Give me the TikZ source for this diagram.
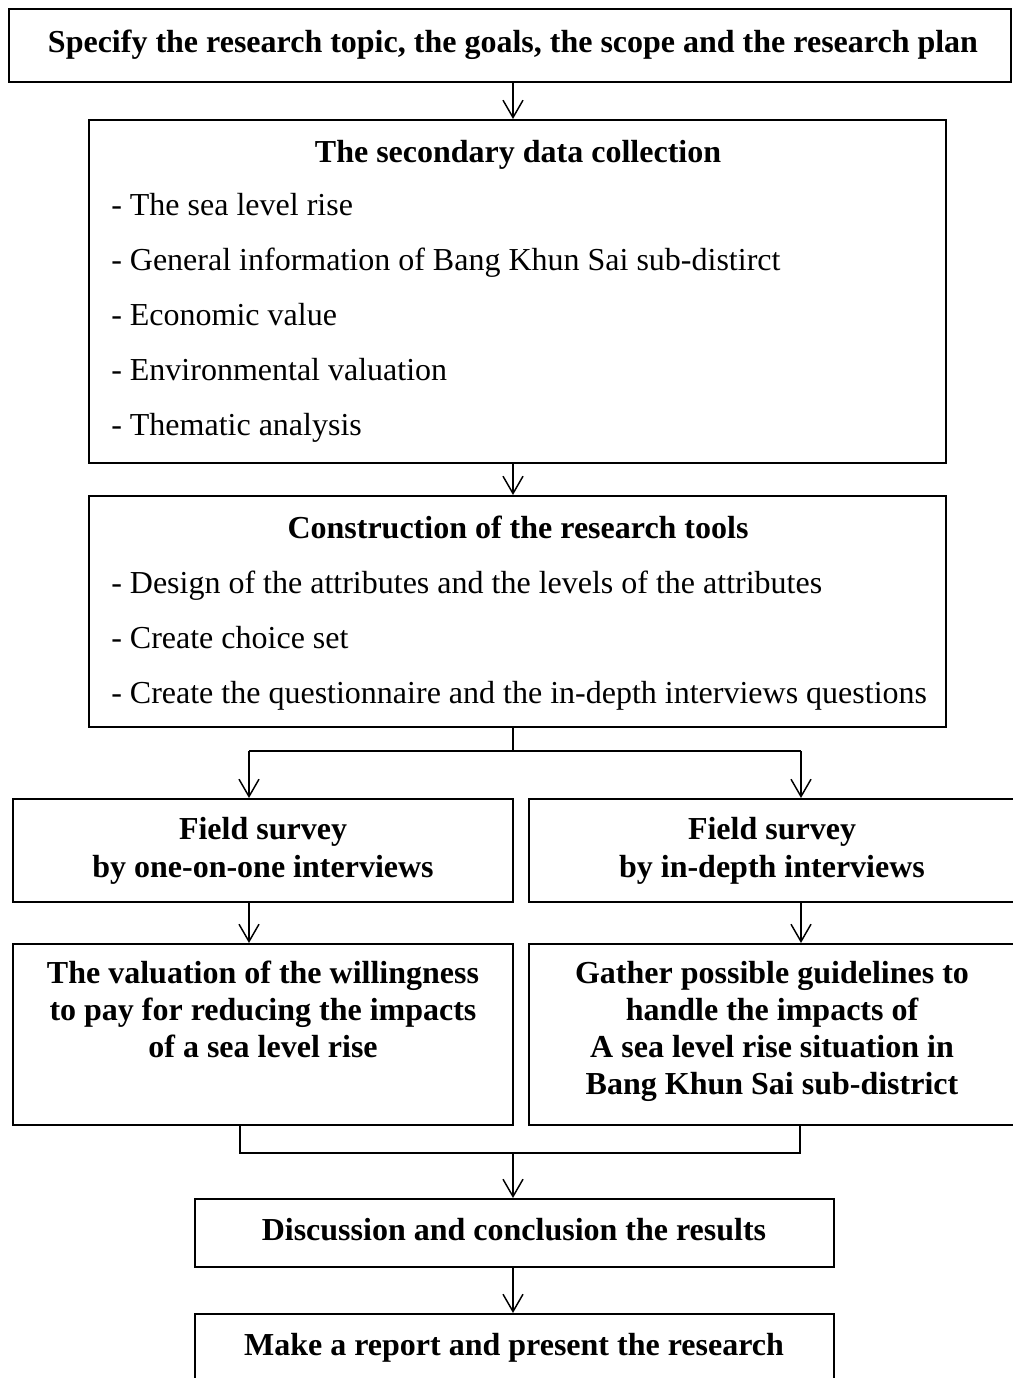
\documentclass[tikz,border=0pt]{standalone}
\usepackage{fontspec}
\setmainfont{Liberation Serif}
\usetikzlibrary{arrows.meta,fit}

\tikzset{
  box/.style={draw, line width=1.5pt, inner sep=0pt},
  hd/.style={font=\fontsize{24}{28}\selectfont\bfseries, inner sep=0pt, anchor=base},
  item/.style={font=\fontsize{24}{28}\selectfont, inner sep=0pt, anchor=base west},
  arr/.style={line width=1.1pt, -{Straight Barb[length=13pt,width=15pt,line width=1.1pt]}},
  link/.style={line width=1.1pt}
}

\begin{document}
\begin{tikzpicture}[x=0.75pt, y=-0.75pt]
  \useasboundingbox (0,0) rectangle (1013,1378);
  \fill[white] (0,0) rectangle (1013,1378);
  \clip (0,0) rectangle (1013,1378);

  % boxes
  \node[box, fit={(9,9) (1011,82)}] (spec) {};
  \node[box, fit={(89,120) (946,463)}] (data) {};
  \node[box, fit={(89,496) (946,727)}] (tools) {};
  \node[box, fit={(13,799) (513,902)}] (survA) {};
  \node[box, fit={(529,799) (1022,902)}] (survB) {};
  \node[box, fit={(13,944) (513,1125)}] (valA) {};
  \node[box, fit={(529,944) (1022,1125)}] (valB) {};
  \node[box, fit={(195,1199) (834,1267)}] (disc) {};
  \node[box, fit={(195,1314) (834,1400)}] (rep) {};

  % texts
  \node[hd] (specT) at (513,52) {Specify the research topic, the goals, the scope and the research plan};

  \node[hd] (dataT) at (518,162) {The secondary data collection};
  \foreach \t [count=\i] in {- The sea level rise,
      - General information of Bang Khun Sai sub-distirct,
      - Economic value, - Environmental valuation, - Thematic analysis}
    \node[item] (data\i) at (111,160+55*\i) {\t};

  \node[hd] (toolsT) at (518,538) {Construction of the research tools};
  \foreach \t [count=\i] in {- Design of the attributes and the levels of the attributes,
      - Create choice set,
      - Create the questionnaire and the in-depth interviews questions}
    \node[item] (tools\i) at (111,538+55*\i) {\t};

  \node[hd] (survA1) at (263,839) {Field survey};
  \node[hd] (survA2) at (263,877) {by one-on-one interviews};
  \node[hd] (survB1) at (772,839) {Field survey};
  \node[hd] (survB2) at (772,877) {by in-depth interviews};

  \node[hd] (valA1) at (263,983) {The valuation of the willingness};
  \node[hd] (valA2) at (263,1020) {to pay for reducing the impacts};
  \node[hd] (valA3) at (263,1057) {of a sea level rise};
  \node[hd] (valB1) at (772,983) {Gather possible guidelines to};
  \node[hd] (valB2) at (772,1020) {handle the impacts of};
  \node[hd] (valB3) at (772,1057) {A sea level rise situation in};
  \node[hd] (valB4) at (772,1094) {Bang Khun Sai sub-district};

  \node[hd] (discT) at (514,1240) {Discussion and conclusion the results};
  \node[hd] (repT) at (514,1355) {Make a report and present the research};

  % connectors
  \coordinate (spine) at (513,0);
  \coordinate (lsplit) at (249,751);
  \coordinate (rsplit) at (801,751);
  \coordinate (ljoin) at (240,1153);
  \coordinate (rjoin) at (800,1153);

  \draw[arr] (spec.south -| spine) -- (data.north -| spine);
  \draw[arr] (data.south -| spine) -- (tools.north -| spine);
  \draw[link] (tools.south -| spine) -- (lsplit -| spine);
  \draw[link] (lsplit) -- (rsplit);
  \draw[arr] (lsplit) -- (lsplit |- survA.north);
  \draw[arr] (rsplit) -- (rsplit |- survB.north);
  \draw[arr] (survA.south -| lsplit) -- (valA.north -| lsplit);
  \draw[arr] (survB.south -| rsplit) -- (valB.north -| rsplit);
  \draw[link] (valA.south -| ljoin) -- (ljoin) -- (rjoin) -- (valB.south -| rjoin);
  \draw[arr] (ljoin -| spine) -- (disc.north -| spine);
  \draw[arr] (disc.south -| spine) -- (rep.north -| spine);
\end{tikzpicture}
\end{document}
